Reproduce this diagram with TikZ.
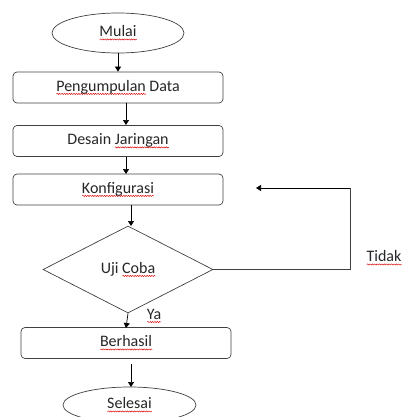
\documentclass[tikz,border=0pt]{standalone}
\usepackage{fontspec}
\setmainfont{Carlito}
\usetikzlibrary{shapes.geometric,arrows.meta,decorations.pathmorphing}
\newdimen\sqwd
\newcommand{\sqw}[1]{\leavevmode\setbox0=\hbox{#1}\sqwd=\wd0\relax
  \rlap{\tikz[baseline=0pt,rounded corners=0pt]\draw[red!85!black,line width=0.45pt,decorate,decoration={snake,amplitude=0.6pt,segment length=2.4pt}] (0pt,-2.6pt) -- (\sqwd,-2.6pt);}\box0\relax}
\begin{document}
\begin{tikzpicture}[x=1pt,y=-1pt,
  every node/.style={font=\fontsize{16}{18}\selectfont, text=black!85},
  box/.style={draw=black!75, line width=0.7pt, rounded corners=4pt, minimum width=210pt, minimum height=31pt, inner sep=0pt},
  term/.style={draw=black!75, line width=0.7pt, ellipse, minimum width=132pt, minimum height=40pt, inner sep=0pt},
  dec/.style={draw=black!75, line width=0.7pt, diamond, minimum width=170pt, minimum height=87pt, inner sep=0pt},
  conn/.style={draw=black, line width=0.7pt, -{Triangle[length=5pt,width=6pt]}},
  line/.style={draw=black!75, line width=0.7pt}]
\useasboundingbox (0,0) rectangle (402,417);
\node[term] (mulai) at (118,33) {\sqw{Mulai}};
\node[box] (peng) at (118,87.5) {\sqw{Pengumpulan} Data};
\node[box] (desain) at (118,141) {Desain \sqw{Jaringan}};
\node[box] (konf) at (118,189.5) {\sqw{Konfigurasi}};
\node[dec] (uji) at (128,269.5) {Uji \sqw{Coba}};
\node[box] (berhasil) at (126,343) {\sqw{Berhasil}};
\node[term, minimum width=133pt, minimum height=36pt] (selesai) at (129.5,405) {\sqw{Selesai}};
\coordinate (back) at (256,188);
\coordinate (c1) at (350,269.5);
\coordinate (c2) at (350,188);
\draw[conn] (mulai.south) -- (peng.north);
\draw[conn] (126,103) -- (126,125);
\draw[conn] (126,157) -- (126,174);
\draw[conn] (131,205) -- (131,226);
\draw[line] (uji.east) -- (c1) -- (c2);
\draw[conn] (c2) -- (back);
\draw[conn] (uji.south) -- (126,328);
\draw[conn] (131,364) -- (131,387);
\node (tidak) at (384,258) {\sqw{Tidak}};
\node (ya) at (154,316) {\sqw{Ya}};
\end{tikzpicture}
\end{document}
